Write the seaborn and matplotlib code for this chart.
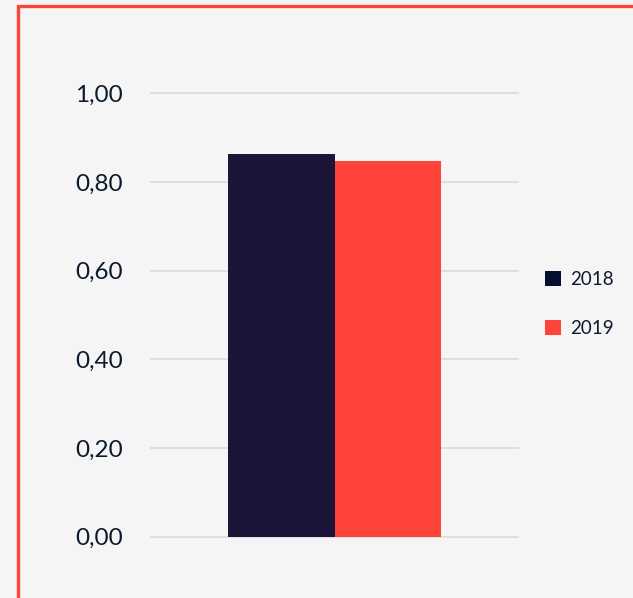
import pandas as pd
import seaborn as sns
import matplotlib.pyplot as plt
from matplotlib.patches import Rectangle

categories = ["Total"]
years = ["2018", "2019"]
values = [0.863, 0.847]
tick_values = [0.0, 0.2, 0.4, 0.6, 0.8, 1.0]
tick_labels = ["0,00", "0,20", "0,40", "0,60", "0,80", "1,00"]

df = pd.DataFrame({"cat": categories * 2, "year": years, "value": values})

bg = "#f5f5f5"
text_c = "#0d1a2e"
palette = {"2018": "#1c1539", "2019": "#ff4338"}

sns.set_style("white")
plt.rcParams["font.family"] = ["Lato", "DejaVu Sans"]

W, H = 633, 598
fig = plt.figure(figsize=(W / 100, H / 100), dpi=100, facecolor=bg)
ax = fig.add_axes([150 / W, (H - 538) / H, (519 - 150) / W, (538 - 92) / H])
ax.set_facecolor(bg)

sns.barplot(data=df, x="cat", y="value", hue="year", palette=palette,
            width=0.575, saturation=1, ax=ax, legend=True)

ax.set_xlim(-0.5, 0.5)
ax.set_ylim(-0.003, 1.003)
ax.set_yticks(tick_values)
ax.set_yticklabels(tick_labels)
ax.set_xticks([])
ax.set_xlabel("")
ax.set_ylabel("")
ax.tick_params(axis="y", length=0, pad=19.5, labelsize=17.5, labelcolor=text_c)
ax.grid(axis="y", color="#dcdcdc", linewidth=1.3)
ax.set_axisbelow(True)
for s in ax.spines.values():
    s.set_visible(False)
for bar in ax.patches:
    bar.set_edgecolor("none")

leg = ax.legend(loc="center left", bbox_to_anchor=(545 / W, 1 - 304 / H),
                bbox_transform=fig.transFigure, frameon=False, fontsize=13.5,
                handlelength=0.85, handleheight=0.85, handletextpad=0.5,
                labelspacing=1.75, borderpad=0, borderaxespad=0)
for t in leg.get_texts():
    t.set_color(text_c)
leg.legend_handles[0].set_facecolor("#051030")

# red frame around the card
fig.patches.append(Rectangle((17.5 / W, -0.05), 1.0, 1 - 5.5 / H + 0.05,
                             transform=fig.transFigure, fill=False,
                             edgecolor="#ff4338", linewidth=2.4))

plt.savefig("out.png", dpi=100, facecolor=bg)
